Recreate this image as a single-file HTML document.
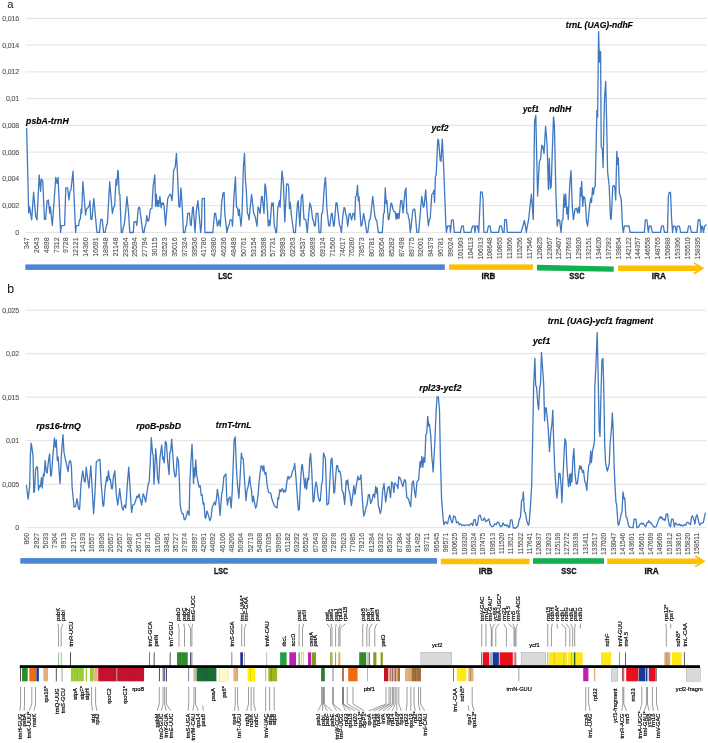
<!DOCTYPE html>
<html><head><meta charset="utf-8"><title>Figure</title>
<style>html,body{margin:0;padding:0;background:#fff}svg{display:block}text{font-family:"Liberation Sans",sans-serif}.ax{font-size:7px;fill:#555;stroke:#555;stroke-width:0.12px}.s6{font-size:6.6px}.an{font-size:8.6px;font-weight:bold;font-style:italic;fill:#000;stroke:#000;stroke-width:0.15px}.rg{font-size:8.5px;font-weight:bold;fill:#111;stroke:#111;stroke-width:0.3px;text-anchor:middle}.pl{font-size:11.2px;fill:#111}.ay{font-size:7.1px;letter-spacing:-0.22px;fill:#555;stroke:#555;stroke-width:0.1px}.g{font-size:5.7px;fill:#000;stroke:#000;stroke-width:0.18px}</style></head><body>
<svg width="708" height="743" viewBox="0 0 708 743">
<rect width="708" height="743" fill="#fff"/>
<text class="pl" x="7.3" y="8.2">a</text>
<line x1="25.8" y1="232.40" x2="706.5" y2="232.40" stroke="#d9d9d9" stroke-width="0.8"/>
<text class="ay" x="19" y="234.90" text-anchor="end">0</text>
<line x1="25.8" y1="205.65" x2="706.5" y2="205.65" stroke="#d9d9d9" stroke-width="0.8"/>
<text class="ay" x="19" y="208.15" text-anchor="end">0,002</text>
<line x1="25.8" y1="178.90" x2="706.5" y2="178.90" stroke="#d9d9d9" stroke-width="0.8"/>
<text class="ay" x="19" y="181.40" text-anchor="end">0,004</text>
<line x1="25.8" y1="152.15" x2="706.5" y2="152.15" stroke="#d9d9d9" stroke-width="0.8"/>
<text class="ay" x="19" y="154.65" text-anchor="end">0,006</text>
<line x1="25.8" y1="125.40" x2="706.5" y2="125.40" stroke="#d9d9d9" stroke-width="0.8"/>
<text class="ay" x="19" y="127.90" text-anchor="end">0,008</text>
<line x1="25.8" y1="98.65" x2="706.5" y2="98.65" stroke="#d9d9d9" stroke-width="0.8"/>
<text class="ay" x="19" y="101.15" text-anchor="end">0,01</text>
<line x1="25.8" y1="71.90" x2="706.5" y2="71.90" stroke="#d9d9d9" stroke-width="0.8"/>
<text class="ay" x="19" y="74.40" text-anchor="end">0,012</text>
<line x1="25.8" y1="45.15" x2="706.5" y2="45.15" stroke="#d9d9d9" stroke-width="0.8"/>
<text class="ay" x="19" y="47.65" text-anchor="end">0,014</text>
<line x1="25.8" y1="18.40" x2="706.5" y2="18.40" stroke="#d9d9d9" stroke-width="0.8"/>
<text class="ay" x="19" y="20.90" text-anchor="end">0,016</text>
<text class="ax" transform="translate(28.95,237.4) rotate(-90)" text-anchor="end">347</text>
<text class="ax" transform="translate(38.81,237.4) rotate(-90)" text-anchor="end">2643</text>
<text class="ax" transform="translate(48.67,237.4) rotate(-90)" text-anchor="end">4898</text>
<text class="ax" transform="translate(58.54,237.4) rotate(-90)" text-anchor="end">7312</text>
<text class="ax" transform="translate(68.40,237.4) rotate(-90)" text-anchor="end">9728</text>
<text class="ax" transform="translate(78.26,237.4) rotate(-90)" text-anchor="end">12121</text>
<text class="ax" transform="translate(88.12,237.4) rotate(-90)" text-anchor="end">14360</text>
<text class="ax" transform="translate(97.98,237.4) rotate(-90)" text-anchor="end">16691</text>
<text class="ax" transform="translate(107.84,237.4) rotate(-90)" text-anchor="end">18948</text>
<text class="ax" transform="translate(117.71,237.4) rotate(-90)" text-anchor="end">21148</text>
<text class="ax" transform="translate(127.57,237.4) rotate(-90)" text-anchor="end">23364</text>
<text class="ax" transform="translate(137.43,237.4) rotate(-90)" text-anchor="end">25594</text>
<text class="ax" transform="translate(147.29,237.4) rotate(-90)" text-anchor="end">27794</text>
<text class="ax" transform="translate(157.15,237.4) rotate(-90)" text-anchor="end">30115</text>
<text class="ax" transform="translate(167.01,237.4) rotate(-90)" text-anchor="end">32523</text>
<text class="ax" transform="translate(176.88,237.4) rotate(-90)" text-anchor="end">35016</text>
<text class="ax" transform="translate(186.74,237.4) rotate(-90)" text-anchor="end">37324</text>
<text class="ax" transform="translate(196.60,237.4) rotate(-90)" text-anchor="end">39536</text>
<text class="ax" transform="translate(206.46,237.4) rotate(-90)" text-anchor="end">41780</text>
<text class="ax" transform="translate(216.32,237.4) rotate(-90)" text-anchor="end">43980</text>
<text class="ax" transform="translate(226.19,237.4) rotate(-90)" text-anchor="end">46236</text>
<text class="ax" transform="translate(236.05,237.4) rotate(-90)" text-anchor="end">48489</text>
<text class="ax" transform="translate(245.91,237.4) rotate(-90)" text-anchor="end">50761</text>
<text class="ax" transform="translate(255.77,237.4) rotate(-90)" text-anchor="end">53154</text>
<text class="ax" transform="translate(265.63,237.4) rotate(-90)" text-anchor="end">55398</text>
<text class="ax" transform="translate(275.49,237.4) rotate(-90)" text-anchor="end">57731</text>
<text class="ax" transform="translate(285.36,237.4) rotate(-90)" text-anchor="end">59983</text>
<text class="ax" transform="translate(295.22,237.4) rotate(-90)" text-anchor="end">62263</text>
<text class="ax" transform="translate(305.08,237.4) rotate(-90)" text-anchor="end">64537</text>
<text class="ax" transform="translate(314.94,237.4) rotate(-90)" text-anchor="end">66899</text>
<text class="ax" transform="translate(324.80,237.4) rotate(-90)" text-anchor="end">69124</text>
<text class="ax" transform="translate(334.66,237.4) rotate(-90)" text-anchor="end">71560</text>
<text class="ax" transform="translate(344.53,237.4) rotate(-90)" text-anchor="end">74017</text>
<text class="ax" transform="translate(354.39,237.4) rotate(-90)" text-anchor="end">76280</text>
<text class="ax" transform="translate(364.25,237.4) rotate(-90)" text-anchor="end">78573</text>
<text class="ax" transform="translate(374.11,237.4) rotate(-90)" text-anchor="end">80781</text>
<text class="ax" transform="translate(383.97,237.4) rotate(-90)" text-anchor="end">83054</text>
<text class="ax" transform="translate(393.84,237.4) rotate(-90)" text-anchor="end">85282</text>
<text class="ax" transform="translate(403.70,237.4) rotate(-90)" text-anchor="end">87498</text>
<text class="ax" transform="translate(413.56,237.4) rotate(-90)" text-anchor="end">89775</text>
<text class="ax" transform="translate(423.42,237.4) rotate(-90)" text-anchor="end">92001</text>
<text class="ax" transform="translate(433.28,237.4) rotate(-90)" text-anchor="end">94379</text>
<text class="ax" transform="translate(443.14,237.4) rotate(-90)" text-anchor="end">96781</text>
<text class="ax" transform="translate(453.01,237.4) rotate(-90)" text-anchor="end">99024</text>
<text class="ax s6" transform="translate(462.87,237.4) rotate(-90)" text-anchor="end">101903</text>
<text class="ax s6" transform="translate(472.73,237.4) rotate(-90)" text-anchor="end">104113</text>
<text class="ax s6" transform="translate(482.59,237.4) rotate(-90)" text-anchor="end">106313</text>
<text class="ax s6" transform="translate(492.45,237.4) rotate(-90)" text-anchor="end">108648</text>
<text class="ax s6" transform="translate(502.31,237.4) rotate(-90)" text-anchor="end">110855</text>
<text class="ax s6" transform="translate(512.18,237.4) rotate(-90)" text-anchor="end">113056</text>
<text class="ax s6" transform="translate(522.04,237.4) rotate(-90)" text-anchor="end">115256</text>
<text class="ax s6" transform="translate(531.90,237.4) rotate(-90)" text-anchor="end">117546</text>
<text class="ax s6" transform="translate(541.76,237.4) rotate(-90)" text-anchor="end">120825</text>
<text class="ax s6" transform="translate(551.62,237.4) rotate(-90)" text-anchor="end">123057</text>
<text class="ax s6" transform="translate(561.49,237.4) rotate(-90)" text-anchor="end">125407</text>
<text class="ax s6" transform="translate(571.35,237.4) rotate(-90)" text-anchor="end">127663</text>
<text class="ax s6" transform="translate(581.21,237.4) rotate(-90)" text-anchor="end">129920</text>
<text class="ax s6" transform="translate(591.07,237.4) rotate(-90)" text-anchor="end">132151</text>
<text class="ax s6" transform="translate(600.93,237.4) rotate(-90)" text-anchor="end">134620</text>
<text class="ax s6" transform="translate(610.79,237.4) rotate(-90)" text-anchor="end">137282</text>
<text class="ax s6" transform="translate(620.66,237.4) rotate(-90)" text-anchor="end">139854</text>
<text class="ax s6" transform="translate(630.52,237.4) rotate(-90)" text-anchor="end">142122</text>
<text class="ax s6" transform="translate(640.38,237.4) rotate(-90)" text-anchor="end">144357</text>
<text class="ax s6" transform="translate(650.24,237.4) rotate(-90)" text-anchor="end">146558</text>
<text class="ax s6" transform="translate(660.10,237.4) rotate(-90)" text-anchor="end">148765</text>
<text class="ax s6" transform="translate(669.96,237.4) rotate(-90)" text-anchor="end">150988</text>
<text class="ax s6" transform="translate(679.83,237.4) rotate(-90)" text-anchor="end">153306</text>
<text class="ax s6" transform="translate(689.69,237.4) rotate(-90)" text-anchor="end">155510</text>
<text class="ax s6" transform="translate(699.55,237.4) rotate(-90)" text-anchor="end">158395</text>
<polyline fill="none" stroke="#4078c0" stroke-width="1.3" stroke-linejoin="round" points="26.6,128.0 27.9,179.1 28.7,213.1 29.6,207.0 31.7,219.8 33.6,192.2 35.7,216.6 37.0,219.8 39.2,175.0 40.6,191.3 41.3,179.1 42.7,180.8 44.5,219.3 45.7,219.3 47.1,200.9 48.3,200.0 49.7,213.1 50.4,207.0 52.3,225.4 55.8,177.3 57.1,183.4 58.1,177.3 60.6,232.4 61.3,225.7 64.6,225.4 65.8,187.8 67.6,187.8 69.0,200.0 69.8,192.2 71.0,189.5 73.0,171.2 75.6,232.4 76.3,225.7 78.6,225.4 79.4,220.1 80.3,219.3 81.2,208.8 81.7,213.1 82.9,181.7 85.6,214.9 86.4,209.7 89.1,206.2 89.9,200.9 90.8,219.3 92.0,219.3 93.8,198.3 96.9,232.4 99.5,232.4 100.8,219.3 102.2,219.3 103.6,232.4 105.1,232.4 106.5,225.4 107.4,223.6 109.7,181.7 112.4,213.4 113.5,207.8 114.7,205.7 115.6,186.6 116.1,179.5 116.8,185.2 117.8,170.4 118.2,171.1 119.2,193.7 119.9,194.4 121.3,232.5 122.4,232.5 123.4,226.9 124.1,225.5 125.5,213.4 126.9,196.5 128.4,210.6 129.8,232.5 133.3,232.5 134.0,221.9 136.1,221.6 136.8,225.5 138.2,209.2 139.0,207.1 139.7,207.8 141.8,224.7 142.9,232.5 143.9,232.5 145.3,225.5 146.0,224.0 146.7,215.6 147.9,221.2 148.8,220.5 150.3,209.2 151.9,208.5 153.1,186.6 154.8,175.0 155.6,206.4 156.3,194.4 157.3,206.4 158.0,200.7 158.7,206.4 159.9,196.5 161.1,207.8 162.0,202.9 162.5,204.3 163.4,202.9 164.1,206.4 165.5,225.5 166.5,213.4 167.6,199.3 168.6,196.5 170.0,194.4 170.7,194.4 171.9,200.7 172.4,196.5 173.6,171.1 174.3,169.0 175.3,166.8 176.4,153.4 177.5,173.9 178.9,206.4 179.9,207.1 180.9,188.0 182.0,202.1 183.4,232.5 184.9,232.5 186.0,226.2 186.7,225.5 187.7,213.4 189.4,213.2 190.5,224.7 191.2,225.5 192.6,207.5 193.3,207.1 195.0,232.5 196.4,210.6 197.9,200.7 199.0,213.4 200.7,232.5 201.5,224.7 202.2,198.6 204.4,198.3 204.9,232.5 212.8,232.5 214.6,213.4 215.6,213.4 217.4,226.2 218.1,224.7 219.1,219.8 220.3,226.2 221.7,202.1 223.1,193.0 224.1,192.3 224.8,213.4 226.9,232.5 228.3,226.2 229.0,225.5 230.1,219.8 231.8,219.8 232.5,226.2 234.0,196.5 235.4,177.0 236.4,206.4 237.8,209.2 238.5,215.6 239.2,209.2 241.0,226.2 242.0,213.4 243.4,166.8 244.5,153.4 245.5,181.0 246.2,188.0 247.4,213.4 248.1,214.2 249.1,219.8 250.2,207.8 251.6,194.4 253.7,213.4 255.1,216.3 257.0,226.2 258.0,207.1 258.7,207.8 260.1,213.4 261.5,196.5 262.2,196.5 264.0,213.4 265.0,183.8 265.7,186.6 266.9,200.7 268.3,226.2 269.3,220.5 270.0,225.5 271.7,202.9 272.5,205.7 273.2,202.9 274.2,224.7 275.9,232.5 276.6,232.5 277.7,207.8 278.4,206.4 279.4,200.7 280.1,207.1 282.0,170.8 283.4,183.1 284.8,221.9 286.6,183.8 288.1,184.1 288.6,186.6 289.5,208.5 290.2,202.1 291.2,213.4 293.7,232.5 295.4,232.5 297.5,202.9 298.2,200.7 299.9,226.2 301.3,196.5 302.5,194.4 304.0,219.1 305.9,219.8 307.3,232.5 308.8,213.4 309.9,202.9 311.3,207.8 312.7,219.8 313.4,220.5 314.5,226.2 315.3,225.5 316.2,213.4 317.9,213.4 319.1,232.5 320.8,232.5 321.6,213.4 322.6,212.7 324.3,186.6 325.4,177.4 326.1,188.0 326.8,207.8 328.7,225.5 329.7,226.2 331.4,213.4 332.2,213.4 333.5,226.2 334.2,225.5 336.0,202.9 337.0,202.9 339.5,225.5 340.3,226.2 341.4,232.5 342.8,216.3 344.1,207.5 344.9,208.5 345.9,214.9 346.6,216.3 347.7,226.2 349.2,214.2 350.1,213.4 351.6,219.8 353.0,213.4 354.0,213.4 354.8,219.8 355.5,196.5 356.5,195.8 357.5,185.5 358.3,200.7 359.0,196.5 361.0,226.2 362.1,224.7 363.6,213.4 364.7,219.1 366.7,232.5 367.8,232.5 369.2,220.5 370.3,219.1 372.7,196.5 374.9,216.3 376.0,219.8 376.7,220.5 378.4,232.5 382.3,232.5 383.6,213.4 384.3,212.7 385.3,188.0 386.2,203.6 386.9,200.7 388.3,219.8 389.0,219.1 391.1,202.9 391.8,203.6 392.9,209.2 393.9,211.3 395.3,212.0 396.0,219.1 396.8,213.4 397.4,218.5 398.2,213.7 399.0,218.5 400.7,200.8 401.8,200.3 403.1,212.9 405.0,191.1 406.0,187.9 406.8,212.9 407.9,213.7 408.7,218.5 409.2,219.4 410.3,232.3 411.2,225.8 412.8,210.5 414.1,208.9 414.9,209.7 416.8,232.3 418.7,232.3 421.7,196.3 422.5,200.8 423.3,207.2 424.1,206.4 425.7,189.8 427.3,213.7 428.4,225.8 429.2,220.2 430.2,218.5 431.8,194.3 433.0,193.5 433.8,190.3 434.6,202.4 435.4,176.5 436.2,174.9 437.8,139.4 438.6,140.2 440.2,160.4 441.0,161.2 442.3,139.1 443.5,163.6 445.9,225.8 446.4,232.3 447.5,226.1 449.9,225.8 450.4,232.3 451.5,220.2 453.2,219.8 454.3,232.3 460.4,232.3 461.6,226.1 463.2,225.8 464.1,232.3 470.9,232.3 472.5,226.1 474.2,225.8 475.0,232.3 475.8,226.1 477.4,225.8 478.7,232.3 480.6,191.9 482.2,192.2 483.0,199.2 483.9,232.3 487.1,232.3 488.4,226.1 490.0,225.8 491.1,232.3 498.5,232.4 499.8,225.8 501.3,225.8 502.8,232.4 504.1,232.4 504.7,219.6 506.4,219.6 507.3,232.4 521.1,232.4 523.0,225.8 524.3,220.5 525.4,225.8 526.3,232.4 527.3,226.2 528.6,219.6 530.1,205.5 531.4,194.2 533.3,219.6 534.6,120.7 535.8,115.4 537.6,196.0 539.3,162.1 540.5,159.3 541.8,145.2 542.7,146.1 544.0,153.7 545.6,126.4 547.1,145.2 548.4,189.5 549.3,158.4 550.3,188.5 551.2,186.6 552.5,145.2 553.5,116.9 554.4,124.5 555.9,194.2 557.2,226.2 558.4,219.6 559.7,220.5 561.0,232.4 562.1,220.5 562.9,219.6 564.0,194.2 564.8,207.3 565.7,194.2 566.8,213.9 567.6,207.3 568.2,219.6 569.7,185.7 571.0,170.6 572.3,207.3 573.4,219.6 575.1,208.9 576.6,208.3 577.6,213.0 578.5,207.3 579.5,213.0 580.4,187.6 581.0,196.0 581.7,181.4 582.7,206.4 583.6,196.4 584.7,197.9 585.7,207.3 586.4,220.5 587.6,226.2 589.8,204.0 590.7,198.4 591.5,202.4 592.6,187.9 593.4,194.3 594.2,187.9 595.2,186.2 596.0,152.3 596.9,110.4 597.6,117.0 598.6,31.6 599.4,62.2 599.8,51.1 600.6,51.9 601.2,146.7 602.3,149.0 603.1,167.7 604.0,120.0 604.6,97.0 605.7,81.5 606.6,120.0 607.6,171.7 609.2,186.2 610.5,218.5 611.2,219.4 612.8,186.2 614.1,185.4 614.9,187.9 615.7,200.0 616.8,151.5 617.6,164.4 618.3,158.0 619.4,193.5 620.5,195.9 621.3,200.8 622.5,225.8 623.4,232.3 624.3,226.1 628.9,225.8 630.2,232.3 644.3,232.3 645.3,219.8 646.9,219.8 648.3,232.3 649.3,226.1 650.9,225.8 652.4,232.3 660.4,232.3 661.6,225.8 663.3,225.8 664.5,232.4 667.5,232.4 668.3,196.9 669.2,192.3 670.5,192.3 671.7,220.7 672.6,232.4 673.3,226.2 675.1,226.2 676.4,232.4 677.2,226.2 679.4,226.2 680.6,232.4 687.4,232.4 688.5,226.2 690.2,226.2 691.4,232.4 697.0,232.4 698.2,219.8 699.9,219.7 701.0,232.4 701.6,226.2 702.4,226.2 703.5,232.4 704.6,226.2 706.5,224.5"/>
<text class="an" x="26.1" y="124.2" textLength="42.6" lengthAdjust="spacingAndGlyphs">psbA-trnH</text>
<text class="an" x="431.5" y="130.6" textLength="17" lengthAdjust="spacingAndGlyphs">ycf2</text>
<text class="an" x="523" y="111.7" textLength="16" lengthAdjust="spacingAndGlyphs">ycf1</text>
<text class="an" x="549.3" y="111.7" textLength="22" lengthAdjust="spacingAndGlyphs">ndhH</text>
<text class="an" x="565.8" y="27.9" textLength="67" lengthAdjust="spacingAndGlyphs">trnL (UAG)-ndhF</text>
<rect x="25.4" y="264.4" width="419.40000000000003" height="5.5" fill="#4a86d2"/>
<rect x="449" y="264.4" width="84" height="5.5" fill="#ffc000"/>
<polygon points="537,264.8 613.7,266.4 613.7,271.8 537,270.4" fill="#12b050"/>
<polygon points="618,265.6 696.8,265.6 693.2,263.6 694.5,262.2 704.4,268.35 694.5,274.5 693.2,273.1 696.8,271.1 618,271.1" fill="#ffc000"/>
<text class="rg" x="225.3" y="279.4" textLength="14.2" lengthAdjust="spacingAndGlyphs">LSC</text>
<text class="rg" x="488.4" y="279.4" textLength="13.8" lengthAdjust="spacingAndGlyphs">IRB</text>
<text class="rg" x="577" y="279.4" textLength="15.3" lengthAdjust="spacingAndGlyphs">SSC</text>
<text class="rg" x="658.8" y="279.4" textLength="14.2" lengthAdjust="spacingAndGlyphs">IRA</text>
<text class="pl" x="7.3" y="293" style="font-size:12.2px">b</text>
<line x1="25.8" y1="527.70" x2="706.5" y2="527.70" stroke="#d9d9d9" stroke-width="0.8"/>
<text class="ay" x="19" y="530.20" text-anchor="end">0</text>
<line x1="25.8" y1="484.20" x2="706.5" y2="484.20" stroke="#d9d9d9" stroke-width="0.8"/>
<text class="ay" x="19" y="486.70" text-anchor="end">0,005</text>
<line x1="25.8" y1="440.70" x2="706.5" y2="440.70" stroke="#d9d9d9" stroke-width="0.8"/>
<text class="ay" x="19" y="443.20" text-anchor="end">0,01</text>
<line x1="25.8" y1="397.20" x2="706.5" y2="397.20" stroke="#d9d9d9" stroke-width="0.8"/>
<text class="ay" x="19" y="399.70" text-anchor="end">0,015</text>
<line x1="25.8" y1="353.70" x2="706.5" y2="353.70" stroke="#d9d9d9" stroke-width="0.8"/>
<text class="ay" x="19" y="356.20" text-anchor="end">0,02</text>
<line x1="25.8" y1="310.20" x2="706.5" y2="310.20" stroke="#d9d9d9" stroke-width="0.8"/>
<text class="ay" x="19" y="312.70" text-anchor="end">0,025</text>
<text class="ax" transform="translate(29.20,532.9) rotate(-90)" text-anchor="end">860</text>
<text class="ax" transform="translate(38.51,532.9) rotate(-90)" text-anchor="end">2927</text>
<text class="ax" transform="translate(47.82,532.9) rotate(-90)" text-anchor="end">5033</text>
<text class="ax" transform="translate(57.13,532.9) rotate(-90)" text-anchor="end">7304</text>
<text class="ax" transform="translate(66.44,532.9) rotate(-90)" text-anchor="end">9913</text>
<text class="ax" transform="translate(75.75,532.9) rotate(-90)" text-anchor="end">12176</text>
<text class="ax" transform="translate(85.05,532.9) rotate(-90)" text-anchor="end">14193</text>
<text class="ax" transform="translate(94.36,532.9) rotate(-90)" text-anchor="end">16557</text>
<text class="ax" transform="translate(103.67,532.9) rotate(-90)" text-anchor="end">18636</text>
<text class="ax" transform="translate(112.98,532.9) rotate(-90)" text-anchor="end">20657</text>
<text class="ax" transform="translate(122.29,532.9) rotate(-90)" text-anchor="end">22657</text>
<text class="ax" transform="translate(131.60,532.9) rotate(-90)" text-anchor="end">24687</text>
<text class="ax" transform="translate(140.91,532.9) rotate(-90)" text-anchor="end">26716</text>
<text class="ax" transform="translate(150.22,532.9) rotate(-90)" text-anchor="end">28716</text>
<text class="ax" transform="translate(159.53,532.9) rotate(-90)" text-anchor="end">31050</text>
<text class="ax" transform="translate(168.84,532.9) rotate(-90)" text-anchor="end">33481</text>
<text class="ax" transform="translate(178.14,532.9) rotate(-90)" text-anchor="end">35727</text>
<text class="ax" transform="translate(187.45,532.9) rotate(-90)" text-anchor="end">37974</text>
<text class="ax" transform="translate(196.76,532.9) rotate(-90)" text-anchor="end">39997</text>
<text class="ax" transform="translate(206.07,532.9) rotate(-90)" text-anchor="end">42091</text>
<text class="ax" transform="translate(215.38,532.9) rotate(-90)" text-anchor="end">44092</text>
<text class="ax" transform="translate(224.69,532.9) rotate(-90)" text-anchor="end">46106</text>
<text class="ax" transform="translate(234.00,532.9) rotate(-90)" text-anchor="end">48206</text>
<text class="ax" transform="translate(243.31,532.9) rotate(-90)" text-anchor="end">50304</text>
<text class="ax" transform="translate(252.62,532.9) rotate(-90)" text-anchor="end">52719</text>
<text class="ax" transform="translate(261.93,532.9) rotate(-90)" text-anchor="end">54808</text>
<text class="ax" transform="translate(271.23,532.9) rotate(-90)" text-anchor="end">57035</text>
<text class="ax" transform="translate(280.54,532.9) rotate(-90)" text-anchor="end">59095</text>
<text class="ax" transform="translate(289.85,532.9) rotate(-90)" text-anchor="end">61182</text>
<text class="ax" transform="translate(299.16,532.9) rotate(-90)" text-anchor="end">63292</text>
<text class="ax" transform="translate(308.47,532.9) rotate(-90)" text-anchor="end">65524</text>
<text class="ax" transform="translate(317.78,532.9) rotate(-90)" text-anchor="end">67643</text>
<text class="ax" transform="translate(327.09,532.9) rotate(-90)" text-anchor="end">69820</text>
<text class="ax" transform="translate(336.40,532.9) rotate(-90)" text-anchor="end">72878</text>
<text class="ax" transform="translate(345.71,532.9) rotate(-90)" text-anchor="end">75023</text>
<text class="ax" transform="translate(355.02,532.9) rotate(-90)" text-anchor="end">77085</text>
<text class="ax" transform="translate(364.32,532.9) rotate(-90)" text-anchor="end">79216</text>
<text class="ax" transform="translate(373.63,532.9) rotate(-90)" text-anchor="end">81284</text>
<text class="ax" transform="translate(382.94,532.9) rotate(-90)" text-anchor="end">83332</text>
<text class="ax" transform="translate(392.25,532.9) rotate(-90)" text-anchor="end">85367</text>
<text class="ax" transform="translate(401.56,532.9) rotate(-90)" text-anchor="end">87384</text>
<text class="ax" transform="translate(410.87,532.9) rotate(-90)" text-anchor="end">89444</text>
<text class="ax" transform="translate(420.18,532.9) rotate(-90)" text-anchor="end">91492</text>
<text class="ax" transform="translate(429.49,532.9) rotate(-90)" text-anchor="end">93711</text>
<text class="ax" transform="translate(438.80,532.9) rotate(-90)" text-anchor="end">96545</text>
<text class="ax" transform="translate(448.11,532.9) rotate(-90)" text-anchor="end">98571</text>
<text class="ax s6" transform="translate(457.42,532.9) rotate(-90)" text-anchor="end">100625</text>
<text class="ax s6" transform="translate(466.72,532.9) rotate(-90)" text-anchor="end">103320</text>
<text class="ax s6" transform="translate(476.03,532.9) rotate(-90)" text-anchor="end">105324</text>
<text class="ax s6" transform="translate(485.34,532.9) rotate(-90)" text-anchor="end">107475</text>
<text class="ax s6" transform="translate(494.65,532.9) rotate(-90)" text-anchor="end">109513</text>
<text class="ax s6" transform="translate(503.96,532.9) rotate(-90)" text-anchor="end">111520</text>
<text class="ax s6" transform="translate(513.27,532.9) rotate(-90)" text-anchor="end">113521</text>
<text class="ax s6" transform="translate(522.58,532.9) rotate(-90)" text-anchor="end">115522</text>
<text class="ax s6" transform="translate(531.89,532.9) rotate(-90)" text-anchor="end">117641</text>
<text class="ax s6" transform="translate(541.20,532.9) rotate(-90)" text-anchor="end">120837</text>
<text class="ax s6" transform="translate(550.51,532.9) rotate(-90)" text-anchor="end">123023</text>
<text class="ax s6" transform="translate(559.81,532.9) rotate(-90)" text-anchor="end">125199</text>
<text class="ax s6" transform="translate(569.12,532.9) rotate(-90)" text-anchor="end">127272</text>
<text class="ax s6" transform="translate(578.43,532.9) rotate(-90)" text-anchor="end">129339</text>
<text class="ax s6" transform="translate(587.74,532.9) rotate(-90)" text-anchor="end">131411</text>
<text class="ax s6" transform="translate(597.05,532.9) rotate(-90)" text-anchor="end">133517</text>
<text class="ax s6" transform="translate(606.36,532.9) rotate(-90)" text-anchor="end">137020</text>
<text class="ax s6" transform="translate(615.67,532.9) rotate(-90)" text-anchor="end">139047</text>
<text class="ax s6" transform="translate(624.98,532.9) rotate(-90)" text-anchor="end">141546</text>
<text class="ax s6" transform="translate(634.29,532.9) rotate(-90)" text-anchor="end">143601</text>
<text class="ax s6" transform="translate(643.60,532.9) rotate(-90)" text-anchor="end">145601</text>
<text class="ax s6" transform="translate(652.90,532.9) rotate(-90)" text-anchor="end">147609</text>
<text class="ax s6" transform="translate(662.21,532.9) rotate(-90)" text-anchor="end">149609</text>
<text class="ax s6" transform="translate(671.52,532.9) rotate(-90)" text-anchor="end">151812</text>
<text class="ax s6" transform="translate(680.83,532.9) rotate(-90)" text-anchor="end">153816</text>
<text class="ax s6" transform="translate(690.14,532.9) rotate(-90)" text-anchor="end">155820</text>
<text class="ax s6" transform="translate(699.45,532.9) rotate(-90)" text-anchor="end">158511</text>
<polyline fill="none" stroke="#4078c0" stroke-width="1.3" stroke-linejoin="round" points="26.4,485.0 28.1,499.1 29.6,487.2 30.4,454.6 31.1,443.1 31.9,447.2 33.0,456.1 33.8,492.4 34.5,491.7 35.6,469.4 36.6,466.8 37.5,467.2 38.5,490.2 39.6,485.7 40.4,486.5 41.5,477.6 42.2,488.0 43.4,473.9 44.1,476.1 45.2,460.6 46.4,472.4 47.1,473.1 48.6,459.8 49.6,453.9 50.7,476.1 51.4,475.4 52.6,459.8 54.4,438.0 55.3,447.2 56.3,439.8 57.3,460.6 58.1,456.9 60.0,483.5 61.5,453.1 63.0,434.6 64.0,452.4 65.5,459.8 66.7,465.0 68.1,471.7 69.2,462.0 70.4,460.6 71.4,465.7 72.1,487.2 74.1,507.2 75.6,506.5 77.0,498.6 78.5,508.7 79.6,509.4 81.0,484.3 82.7,470.9 84.4,481.3 85.2,482.0 86.2,467.2 87.4,476.9 88.9,488.0 90.8,465.7 91.9,484.3 93.6,513.6 94.8,496.1 96.3,462.0 97.3,461.3 98.5,459.8 100.0,459.5 101.0,481.3 103.0,506.2 103.7,505.7 105.2,487.2 106.7,476.9 107.4,481.3 108.4,470.9 109.6,479.8 110.4,479.1 111.6,488.7 112.3,488.7 113.3,477.6 114.8,470.9 116.3,494.6 117.7,505.0 118.7,497.6 119.7,488.7 120.9,499.1 122.1,508.0 123.1,510.2 124.2,505.7 125.1,505.0 125.8,508.0 127.6,480.6 128.8,467.2 129.8,484.3 131.6,512.4 132.8,505.0 134.3,504.3 135.7,500.6 136.9,496.1 138.0,497.6 139.0,493.9 140.2,499.1 141.7,505.0 143.1,493.9 144.2,496.1 145.7,502.0 146.9,493.1 148.3,483.5 149.1,482.8 150.3,462.0 151.3,437.6 152.5,453.1 153.2,455.4 154.0,484.3 154.7,469.4 155.7,448.7 156.8,462.0 157.5,476.9 158.7,483.5 159.9,458.3 161.7,445.0 162.7,459.1 163.1,456.9 164.2,462.8 165.4,441.3 166.4,442.8 167.6,460.6 169.1,474.6 169.8,452.4 170.6,451.7 171.7,439.1 172.8,454.6 173.8,469.4 175.0,476.9 176.0,476.1 177.2,456.9 178.4,460.6 179.4,481.3 180.2,505.0 181.2,510.9 182.4,513.9 183.1,513.6 184.3,519.8 185.4,519.1 186.9,513.9 187.6,510.9 189.1,515.4 189.8,484.3 190.9,462.0 192.0,444.3 192.8,462.0 193.5,483.5 194.3,468.0 195.0,476.9 195.7,459.8 196.8,475.4 198.0,482.0 199.1,487.2 200.2,485.7 201.2,495.4 202.1,494.6 203.1,504.3 203.9,502.8 205.1,517.6 205.7,518.3 206.9,510.9 208.0,513.9 209.8,520.6 211.0,518.3 212.2,507.2 213.3,505.0 214.4,502.0 215.5,505.0 216.4,499.1 217.4,489.4 218.6,497.6 220.1,515.4 221.6,494.6 222.6,490.2 223.8,476.9 224.8,475.4 225.9,473.9 226.6,494.6 227.5,505.0 228.5,499.1 230.0,496.9 231.2,508.0 232.2,491.7 233.3,462.0 234.1,439.8 235.2,436.9 236.4,468.0 237.4,484.3 238.9,498.3 240.1,476.9 241.4,453.1 242.3,458.3 243.3,459.1 244.8,484.3 246.0,500.6 247.0,490.2 248.2,486.5 249.7,476.1 250.4,484.3 251.5,490.2 252.5,502.0 253.4,496.1 254.4,502.0 255.6,508.0 256.7,505.7 258.1,494.6 259.3,479.8 261.1,465.7 262.1,466.5 263.0,470.9 263.8,465.7 264.5,472.4 265.3,474.6 266.0,472.4 267.0,484.3 268.5,492.4 270.7,493.1 271.9,499.1 273.0,502.0 274.4,505.7 275.9,507.2 277.1,508.0 277.9,497.6 278.6,499.1 279.9,489.4 280.8,491.7 281.9,489.4 282.6,488.7 283.6,492.4 284.5,490.2 285.6,491.7 287.0,480.6 288.1,476.1 289.0,479.1 290.0,476.9 291.2,476.9 292.2,471.7 293.7,468.7 294.7,463.5 295.9,476.9 297.4,498.3 298.4,510.2 299.3,509.4 300.4,484.3 301.6,466.5 302.3,464.3 303.3,473.1 304.8,488.0 305.6,478.3 306.6,489.4 308.0,477.6 308.7,479.8 309.7,459.1 310.6,453.4 311.7,469.4 313.1,502.0 313.9,500.6 315.1,487.2 316.1,482.0 317.1,487.2 318.3,497.6 319.5,501.3 320.3,500.6 321.6,484.3 322.5,480.6 323.5,452.9 324.6,456.1 325.4,458.3 326.9,505.0 328.0,504.3 328.7,502.8 329.9,479.8 330.9,460.6 332.0,457.9 332.9,473.9 333.9,493.1 334.6,492.4 335.7,476.1 336.6,465.7 337.6,465.7 338.8,471.7 339.8,470.9 341.0,476.1 342.0,490.2 343.2,492.4 344.7,504.3 346.2,480.6 346.9,484.3 347.7,479.8 348.7,489.4 349.9,493.9 351.4,505.7 352.4,497.6 353.9,485.7 354.9,494.6 356.1,487.2 357.9,476.1 358.8,479.8 359.8,479.1 360.9,474.9 361.7,488.7 362.8,505.7 363.8,516.1 365.0,512.4 366.2,506.5 366.9,505.7 368.4,494.6 369.4,494.6 370.6,503.5 372.0,500.6 373.1,494.6 373.9,493.9 374.6,497.6 375.7,486.5 376.6,493.1 377.3,488.0 378.3,505.0 379.1,508.0 380.3,513.6 381.3,509.4 382.8,490.2 384.0,483.5 385.0,494.6 385.7,502.0 386.9,493.1 388.0,487.2 389.1,486.5 390.5,497.6 391.7,482.0 392.7,483.5 393.9,492.4 394.9,482.8 395.8,484.3 396.9,485.0 397.9,488.7 398.8,476.9 399.8,477.6 401.0,480.6 402.9,486.7 404.3,479.8 405.5,480.2 406.8,497.4 408.2,498.4 410.7,506.8 412.1,483.8 413.3,480.8 414.6,491.6 415.6,497.4 417.0,481.8 418.6,479.8 420.1,461.3 420.9,467.1 421.9,456.4 422.9,467.1 423.8,457.4 424.8,462.3 425.8,434.9 426.8,433.0 427.7,416.4 428.7,426.1 429.5,424.2 430.7,434.9 431.8,456.4 433.2,472.0 434.8,442.7 436.1,411.5 437.1,396.8 438.3,396.8 439.5,409.5 440.4,458.4 441.6,499.4 443.0,517.0 443.9,524.8 445.3,521.8 446.5,522.8 447.5,523.8 448.8,517.9 449.8,515.0 451.2,520.9 452.3,522.8 453.7,516.0 455.1,516.6 456.6,522.8 458.0,521.8 459.2,524.8 460.5,523.8 462.1,525.7 463.5,524.8 464.8,525.7 466.4,524.8 468.0,524.8 469.3,525.7 470.3,523.8 471.7,523.4 472.7,525.7 473.8,519.9 475.2,519.5 476.2,525.7 477.5,524.8 478.7,516.0 480.1,515.0 481.6,519.9 483.0,520.5 484.4,517.9 485.9,521.8 487.3,520.5 488.9,518.9 490.2,524.8 491.8,526.7 493.4,526.3 494.7,523.8 496.1,524.8 497.3,522.2 498.9,522.5 499.6,525.3 500.9,526.8 502.0,526.0 503.0,522.9 504.3,525.3 505.5,525.0 506.6,526.0 507.7,525.0 508.6,527.6 509.7,526.8 510.5,519.8 512.0,519.8 513.3,528.0 515.9,528.0 517.9,526.0 519.0,520.6 520.5,516.7 521.6,500.5 522.6,499.7 523.3,492.0 524.4,511.3 525.5,512.9 526.7,520.6 528.3,525.3 529.1,523.7 530.3,508.2 531.7,485.0 532.6,440.0 533.7,384.6 534.9,358.4 535.7,385.4 536.6,387.0 537.8,404.0 538.6,409.7 539.7,387.9 540.5,383.8 541.5,352.3 542.6,368.5 543.7,384.6 544.6,421.0 545.4,408.0 546.2,408.0 547.0,415.3 548.3,429.9 549.5,451.7 550.7,434.0 552.0,423.0 552.8,410.1 553.5,435.5 554.6,464.9 555.7,485.0 556.9,498.2 558.2,485.0 558.9,473.4 560.0,473.4 561.1,485.0 561.9,502.8 563.1,474.2 564.2,451.0 565.0,438.6 565.9,441.7 567.0,468.0 568.5,486.6 569.8,474.2 570.4,485.8 571.2,473.4 571.9,481.9 572.9,458.7 573.9,448.6 575.0,474.2 576.3,484.2 577.4,483.5 578.6,474.2 579.7,465.7 580.4,468.8 581.2,466.4 582.5,472.6 583.5,470.3 584.8,481.9 585.6,482.7 586.8,490.4 587.9,474.2 588.7,465.7 589.7,464.1 590.7,451.0 591.4,462.6 592.5,451.0 593.8,445.5 594.5,440.1 594.8,387.9 595.9,365.2 597.2,332.6 598.0,368.5 599.2,429.9 600.0,436.3 600.8,400.8 601.9,360.4 602.9,358.4 603.7,384.6 604.7,443.2 605.5,461.8 606.6,468.0 607.3,471.1 608.6,466.4 609.3,463.3 610.1,443.2 611.7,426.2 612.3,413.0 613.2,430.8 614.0,461.8 614.8,481.9 616.0,502.8 616.6,503.6 617.9,523.7 618.6,525.3 620.2,519.1 621.4,512.9 622.0,512.1 623.0,492.0 624.1,498.9 624.8,498.2 625.9,516.7 626.8,517.5 628.7,526.0 629.9,527.3 633.0,527.6 634.1,519.1 636.0,519.1 636.9,527.6 638.8,526.8 639.8,524.5 641.5,522.9 642.3,524.0 643.4,523.4 644.6,525.3 645.7,526.8 647.0,522.9 648.0,522.2 648.8,520.6 649.6,522.9 650.7,522.2 651.6,524.0 652.7,525.3 654.2,527.3 656.3,526.5 657.6,522.9 658.9,519.1 660.4,516.7 661.2,518.3 662.0,517.2 663.1,519.8 664.3,519.1 665.1,520.6 666.2,514.4 667.4,513.7 668.5,520.6 669.4,525.3 670.5,526.8 671.6,519.1 673.1,519.1 674.4,526.8 675.6,522.9 677.0,524.5 678.2,525.3 679.5,524.0 680.6,525.7 681.6,525.0 682.9,526.0 684.4,524.5 685.7,525.3 687.1,522.2 688.3,522.6 689.1,523.7 690.5,524.6 691.5,517.1 692.4,515.8 693.2,517.8 694.2,520.5 694.9,524.2 695.9,517.1 696.9,514.7 698.0,518.5 699.0,523.2 699.9,525.1 700.7,523.6 702.0,522.9 703.4,522.5 704.4,517.1 705.4,512.7"/>
<text class="an" x="36.2" y="428.7" textLength="44.7" lengthAdjust="spacingAndGlyphs">rps16-trnQ</text>
<text class="an" x="136.2" y="428.7" textLength="44.7" lengthAdjust="spacingAndGlyphs">rpoB-psbD</text>
<text class="an" x="215.8" y="428.2" textLength="35.6" lengthAdjust="spacingAndGlyphs">trnT-trnL</text>
<text class="an" x="419.2" y="391.3" textLength="42.2" lengthAdjust="spacingAndGlyphs">rpl23-ycf2</text>
<text class="an" x="533" y="344.3" textLength="17.3" lengthAdjust="spacingAndGlyphs">ycf1</text>
<text class="an" x="547.7" y="324.1" textLength="105.4" lengthAdjust="spacingAndGlyphs">trnL (UAG)-ycf1 fragment</text>
<rect x="20.3" y="558.1" width="416.7" height="5.6" fill="#4a86d2"/>
<rect x="440.8" y="558.6" width="88.69999999999999" height="5.6" fill="#ffc000"/>
<rect x="533" y="558.2" width="71" height="5.6" fill="#12b050"/>
<polygon points="607.2,558.5 698,558.5 694.5,556.6 695.8,555.2 705.7,561.25 695.8,567.3 694.5,565.9 698,564 607.2,564" fill="#ffc000"/>
<text class="rg" x="221" y="573.7" textLength="14.2" lengthAdjust="spacingAndGlyphs">LSC</text>
<text class="rg" x="485.7" y="573.7" textLength="13.8" lengthAdjust="spacingAndGlyphs">IRB</text>
<text class="rg" x="569" y="573.7" textLength="15.3" lengthAdjust="spacingAndGlyphs">SSC</text>
<text class="rg" x="651.6" y="573.7" textLength="14.2" lengthAdjust="spacingAndGlyphs">IRA</text>
<g>
<rect x="20.200000000000003" y="667.5" width="0.80" height="13.80" fill="#222"/>
<rect x="22" y="667.5" width="5.70" height="13.80" fill="#2e8b2e"/>
<rect x="29.3" y="667.5" width="7.10" height="13.80" fill="#f06a10"/>
<rect x="36.4" y="667.5" width="2.50" height="13.80" fill="#1a3a9a"/>
<rect x="43.3" y="667.5" width="4.70" height="13.80" fill="#e3b07c"/>
<rect x="55.85" y="667.5" width="0.80" height="13.80" fill="#222"/>
<rect x="61.65" y="667.5" width="0.80" height="13.80" fill="#888"/>
<rect x="70.9" y="667.5" width="6.50" height="13.80" fill="#9acd32"/>
<rect x="77.4" y="667.5" width="0.80" height="13.80" fill="#6b8e23"/>
<rect x="78.2" y="667.5" width="5.60" height="13.80" fill="#9acd32"/>
<rect x="85.7" y="667.5" width="1.30" height="13.80" fill="#9acd32"/>
<rect x="90" y="667.5" width="3.80" height="13.80" fill="#9acd32"/>
<rect x="94.2" y="667.5" width="3.50" height="13.80" fill="#e3b07c"/>
<rect x="98.2" y="667.5" width="18.20" height="13.80" fill="#c4122e"/>
<rect x="116.4" y="667.5" width="0.80" height="13.80" fill="#a06060"/>
<rect x="117.2" y="667.5" width="12.30" height="13.80" fill="#c4122e"/>
<rect x="129.29999999999998" y="667.5" width="0.80" height="13.80" fill="#5a0a14"/>
<rect x="129.9" y="667.5" width="14.20" height="13.80" fill="#c4122e"/>
<rect x="158.95" y="667.5" width="0.80" height="13.80" fill="#222"/>
<rect x="162.75" y="667.5" width="0.80" height="13.80" fill="#222"/>
<rect x="164.35" y="667.5" width="0.80" height="13.80" fill="#20205a"/>
<rect x="166.04999999999998" y="667.5" width="0.80" height="13.80" fill="#20205a"/>
<rect x="188.29999999999998" y="667.5" width="0.80" height="13.80" fill="#5a6488"/>
<rect x="193.6" y="667.5" width="1.00" height="13.80" fill="#999"/>
<rect x="194.6" y="667.5" width="1.80" height="13.80" fill="#e3b07c"/>
<rect x="196.6" y="667.5" width="9.80" height="13.80" fill="#1a6b33"/>
<rect x="206.15" y="667.5" width="0.80" height="13.80" fill="#0a3a18"/>
<rect x="206.7" y="667.5" width="9.70" height="13.80" fill="#1a6b33"/>
<rect x="219.3" y="667.5" width="8.80" height="13.80" fill="#fdfcc4" stroke="#cfcf90" stroke-width="0.4"/>
<rect x="233.4" y="667.5" width="3.90" height="13.80" fill="#e3b07c"/>
<rect x="237.25" y="667.5" width="0.80" height="13.80" fill="#999"/>
<rect x="247.5" y="667.5" width="7.50" height="13.80" fill="#fff000"/>
<rect x="249.99999999999997" y="667.5" width="0.80" height="13.80" fill="#e0c800"/>
<rect x="265.35" y="667.5" width="0.80" height="13.80" fill="#999"/>
<rect x="268.3" y="667.5" width="8.80" height="13.80" fill="#9ab820"/>
<rect x="270.8" y="667.5" width="0.80" height="13.80" fill="#7a9010"/>
<rect x="321.1" y="667.5" width="3.70" height="13.80" fill="#2e7a2e"/>
<rect x="332.6" y="667.5" width="0.80" height="13.80" fill="#5a6488"/>
<rect x="342.1" y="667.5" width="1.80" height="13.80" fill="#a0703a"/>
<rect x="348.2" y="667.5" width="9.40" height="13.80" fill="#f06a10"/>
<rect x="367.20000000000005" y="667.5" width="0.80" height="13.80" fill="#b0a080"/>
<rect x="384" y="667.5" width="4.20" height="13.80" fill="#c4122e"/>
<rect x="388.2" y="667.5" width="2.00" height="13.80" fill="#e3b07c"/>
<rect x="390.2" y="667.5" width="1.10" height="13.80" fill="#a0703a"/>
<rect x="391.3" y="667.5" width="1.10" height="13.80" fill="#e3b07c"/>
<rect x="392.25" y="667.5" width="0.80" height="13.80" fill="#8020a0"/>
<rect x="392.9" y="667.5" width="1.60" height="13.80" fill="#e3b07c"/>
<rect x="394.5" y="667.5" width="1.50" height="13.80" fill="#a0703a"/>
<rect x="396" y="667.5" width="1.50" height="13.80" fill="#e3b07c"/>
<rect x="397.5" y="667.5" width="2.50" height="13.80" fill="#a0703a"/>
<rect x="405.1" y="667.5" width="4.60" height="13.80" fill="#e3b07c"/>
<rect x="409.65" y="667.5" width="0.80" height="13.80" fill="#a0703a"/>
<rect x="410.4" y="667.5" width="1.00" height="13.80" fill="#e3b07c"/>
<rect x="411.4" y="667.5" width="4.60" height="13.80" fill="#a0703a"/>
<rect x="415.8" y="667.5" width="0.80" height="13.80" fill="#704a20"/>
<rect x="416.4" y="667.5" width="4.60" height="13.80" fill="#a0703a"/>
<rect x="453.15000000000003" y="667.5" width="0.80" height="13.80" fill="#555"/>
<rect x="456.8" y="667.5" width="9.50" height="13.80" fill="#ffe81a"/>
<rect x="468.3" y="667.5" width="2.10" height="13.80" fill="#e3b07c"/>
<rect x="470.25" y="667.5" width="0.80" height="13.80" fill="#a0703a"/>
<rect x="470.9" y="667.5" width="2.60" height="13.80" fill="#e3b07c"/>
<rect x="518.45" y="667.5" width="0.80" height="13.80" fill="#888"/>
<rect x="583.2" y="667.5" width="5.20" height="13.80" fill="#c020b0"/>
<rect x="593.9" y="667.5" width="1.40" height="13.80" fill="#e3b07c"/>
<rect x="611.3" y="667.5" width="6.50" height="13.80" fill="#d9d9d9" stroke="#999" stroke-width="0.4"/>
<rect x="622.3" y="667.5" width="0.90" height="13.80" fill="#7a1010"/>
<rect x="623.4" y="667.5" width="0.80" height="13.80" fill="#e8101e"/>
<rect x="626.2" y="667.5" width="12.10" height="13.80" fill="#e8101e"/>
<rect x="638.7" y="667.5" width="6.30" height="13.80" fill="#1a3a9a"/>
<rect x="645" y="667.5" width="1.00" height="13.80" fill="#a0a8c8"/>
<rect x="646" y="667.5" width="1.00" height="13.80" fill="#1a3a9a"/>
<rect x="647" y="667.5" width="1.50" height="13.80" fill="#a0a8c8"/>
<rect x="649" y="667.5" width="6.70" height="13.80" fill="#e8101e"/>
<rect x="656.0500000000001" y="667.5" width="0.80" height="13.80" fill="#666"/>
<rect x="686.3" y="667.5" width="14.00" height="13.80" fill="#d9d9d9" stroke="#999" stroke-width="0.4"/>
<rect x="58.1" y="652.3" width="0.80" height="13.40" fill="#7ab87a"/>
<rect x="60.800000000000004" y="652.3" width="0.80" height="13.40" fill="#7ab87a"/>
<rect x="70.05" y="652.3" width="0.80" height="13.40" fill="#222"/>
<rect x="149.15" y="652.3" width="0.80" height="13.40" fill="#555"/>
<rect x="153.75" y="652.3" width="0.80" height="13.40" fill="#333"/>
<rect x="169.75" y="652.3" width="0.80" height="13.40" fill="#333"/>
<rect x="177" y="652.3" width="4.00" height="13.40" fill="#2e8b2e"/>
<rect x="180.79999999999998" y="652.3" width="0.80" height="13.40" fill="#1a5a1a"/>
<rect x="181.4" y="652.3" width="6.30" height="13.40" fill="#2e8b2e"/>
<rect x="190.1" y="652.3" width="1.20" height="13.40" fill="#445"/>
<rect x="191.3" y="652.3" width="1.20" height="13.40" fill="#99a"/>
<rect x="231.45" y="652.3" width="0.80" height="13.40" fill="#5a6488"/>
<rect x="240.3" y="652.3" width="2.60" height="13.40" fill="#1a2f8a"/>
<rect x="244.04999999999998" y="652.3" width="0.80" height="13.40" fill="#999"/>
<rect x="266.35" y="652.3" width="0.80" height="13.40" fill="#aab"/>
<rect x="280.1" y="652.3" width="6.50" height="13.40" fill="#22a040"/>
<rect x="289.3" y="652.3" width="6.70" height="13.40" fill="#c020b0"/>
<rect x="298.4" y="652.3" width="1.50" height="13.40" fill="#8aaa8a"/>
<rect x="301.3" y="652.3" width="2.40" height="13.40" fill="#fdfcc4" stroke="#999" stroke-width="0.4"/>
<rect x="308" y="652.3" width="3.20" height="13.40" fill="#c020b0"/>
<rect x="311.9" y="652.3" width="4.10" height="13.40" fill="#8a9a18"/>
<rect x="330.2" y="652.3" width="1.10" height="13.40" fill="#8a9a18"/>
<rect x="331.3" y="652.3" width="1.30" height="13.40" fill="#a0a070"/>
<rect x="335.25" y="652.3" width="0.80" height="13.40" fill="#5a9a5a"/>
<rect x="338.2" y="652.3" width="2.20" height="13.40" fill="#e3b07c"/>
<rect x="359.2" y="652.3" width="7.00" height="13.40" fill="#2e8b2e"/>
<rect x="366.5" y="652.3" width="2.10" height="13.40" fill="#c8d0c8"/>
<rect x="368.8" y="652.3" width="1.00" height="13.40" fill="#2a6a2a"/>
<rect x="373.3" y="652.3" width="3.10" height="13.40" fill="#8a9a18"/>
<rect x="380.6" y="652.3" width="2.20" height="13.40" fill="#8a9a18"/>
<rect x="420.9" y="652.3" width="30.90" height="13.40" fill="#d9d9d9" stroke="#999" stroke-width="0.4"/>
<rect x="481.35" y="652.3" width="0.80" height="13.40" fill="#333"/>
<rect x="482.9" y="652.3" width="6.40" height="13.40" fill="#e8101e"/>
<rect x="490.1" y="652.3" width="2.40" height="13.40" fill="#a0a8c8"/>
<rect x="492.8" y="652.3" width="6.10" height="13.40" fill="#1a3a9a"/>
<rect x="498.9" y="652.3" width="0.90" height="13.40" fill="#a0a8c8"/>
<rect x="500" y="652.3" width="12.80" height="13.40" fill="#e8101e"/>
<rect x="513.7" y="652.3" width="0.80" height="13.40" fill="#999"/>
<rect x="514.6999999999999" y="652.3" width="0.80" height="13.40" fill="#e8101e"/>
<rect x="515.5000000000001" y="652.3" width="0.80" height="13.40" fill="#777"/>
<rect x="521.1" y="652.3" width="24.60" height="13.40" fill="#d9d9d9" stroke="#999" stroke-width="0.4"/>
<rect x="547.1" y="652.3" width="1.20" height="13.40" fill="#e3b07c"/>
<rect x="548.8" y="652.3" width="5.30" height="13.40" fill="#ffe81a"/>
<rect x="553.9" y="652.3" width="0.80" height="13.40" fill="#b0a000"/>
<rect x="554.5" y="652.3" width="9.50" height="13.40" fill="#ffe81a"/>
<rect x="563.8000000000001" y="652.3" width="0.80" height="13.40" fill="#b0a000"/>
<rect x="564.4" y="652.3" width="2.70" height="13.40" fill="#ffe81a"/>
<rect x="567.1" y="652.3" width="1.10" height="13.40" fill="#fff8a0"/>
<rect x="568.2" y="652.3" width="3.20" height="13.40" fill="#ffe81a"/>
<rect x="571.15" y="652.3" width="0.80" height="13.40" fill="#b0a000"/>
<rect x="571.7" y="652.3" width="2.00" height="13.40" fill="#ffe81a"/>
<rect x="573.9" y="652.3" width="1.70" height="13.40" fill="#1a5a3a"/>
<rect x="575.6" y="652.3" width="7.10" height="13.40" fill="#ffe81a"/>
<rect x="601" y="652.3" width="10.10" height="13.40" fill="#ffe81a"/>
<rect x="619.0500000000001" y="652.3" width="0.80" height="13.40" fill="#777"/>
<rect x="625.15" y="652.3" width="0.80" height="13.40" fill="#7a2020"/>
<rect x="664.4" y="652.3" width="2.60" height="13.40" fill="#d8a870"/>
<rect x="666.8000000000001" y="652.3" width="0.80" height="13.40" fill="#a0703a"/>
<rect x="667.4" y="652.3" width="2.80" height="13.40" fill="#d8a870"/>
<rect x="671.9" y="652.3" width="9.90" height="13.40" fill="#ffe81a"/>
<rect x="683.95" y="652.3" width="0.80" height="13.40" fill="#333"/>
<rect x="19.8" y="665.2" width="680.2" height="2.80" fill="#000"/>
<path d="M20.6 687V704L19.9 710.8M24.5 687V704L24.1 710.8M31.8 687V704L29.1 710.8M35.5 687V704L34.0 710.8M91.6 687V704L92.6 710.8M95.6 687V704L96.9 710.8M159.3 687V704L157.2 710.8M163.1 687V704L161.4 710.8M164.7 687V704L166.1 710.8M166.4 687V704L170.6 710.8M188.7 687V704L188.1 710.8M194.0 687V704L192.8 710.8M195.5 687V704L198.4 710.8M202.6 705.5L203.4 710.8M235.3 687V704L234.4 710.8M237.6 687V704L238.7 710.8M248.5 687V704L246.7 710.8M251.2 687V704L251.1 710.8M253.8 687V704L255.6 710.8M265.7 687V704L265.5 710.8M269.6 687V704L269.7 710.8M274.2 687V704L274.3 710.8M468.2 705.5L469.0 710.8M472.2 687V704L473.9 710.8M585.8 687V704L585.6 710.8M588.6 687V704L590.1 710.8M622.8 687V704L621.7 710.8M623.8 687V704L626.5 710.8M641.8 687V704L639.8 710.8M646.5 687V704L644.5 710.8M647.5 687V704L649.0 710.8M652.4 687V704L653.4 710.8M656.5 687V704L658.3 710.8M58.5 646.6V628.5L58.1 623.8M61.2 646.6V628.5L63.0 623.8M179.0 646.6V628.5L178.4 623.8M184.5 646.6V628.5L183.8 623.8M190.6 646.6V628.5L188.0 623.8M191.9 646.6V628.5L192.5 623.8M241.6 646.6V628.5L242.0 623.8M244.4 646.6V628.5L246.2 623.8M299.1 646.6V628.5L299.2 623.8M302.5 646.6V628.5L303.7 623.8M330.6 646.6V628.5L327.0 623.8M332.0 646.6V628.5L331.2 623.8M335.6 646.6V628.5L336.1 623.8M338.8 646.6V628.5L340.4 623.8M340.0 646.6V628.5L345.3 623.8M362.7 646.6V628.5L363.0 623.8M366.8 646.6V628.5L367.6 623.8M369.3 646.6V628.5L372.1 623.8M374.8 646.6V628.5L376.7 623.8M481.7 646.6V628.5L482.0 623.8M486.0 646.6V628.5L485.9 623.8M491.3 646.6V628.5L490.1 623.8M492.2 646.6V628.5L494.7 623.8M495.8 646.6V628.5L498.9 623.8M506.4 646.6V628.5L503.8 623.8M514.0 646.6V628.5L508.4 623.8M515.0 646.6V628.5L513.0 623.8M516.0 646.6V628.5L517.5 623.8M547.7 646.6V628.5L547.8 623.8M551.4 646.6V628.5L552.3 623.8M557.3 628.5L557.0 623.8M565.7 646.6V628.5L561.5 623.8M569.8 646.6V628.5L566.1 623.8M572.7 646.6V628.5L570.6 623.8M574.7 646.6V628.5L575.3 623.8M580.6 628.5L580.3 623.8M666.3 646.6V628.5L665.8 623.8M670.8 628.5L670.5 623.8M321.6 687V704L318.0 710.8M322.6 687V704L322.6 710.8M323.5 687V704L327.3 710.8M324.4 687V704L331.9 710.8M332.8 687V704L336.5 710.8M333.2 687V704L341.2 710.8M342.5 687V704L345.8 710.8M343.5 687V704L350.4 710.8M343.0 687V704L355.1 710.8M347.3 687V704L359.7 710.8M353.0 687V704L364.3 710.8M386.0 687V704L369.0 710.8M389.0 687V704L373.6 710.8M390.7 687V704L378.3 710.8M392.6 687V704L382.9 710.8M393.7 687V704L387.5 710.8M395.2 687V704L392.2 710.8M396.8 687V704L396.8 710.8M398.8 687V704L401.4 710.8M407.0 687V704L406.1 710.8M410.8 687V704L410.7 710.8M414.0 687V704L415.3 710.8M418.5 687V704L420.0 710.8M420.6 687V704L424.6 710.8" fill="none" stroke="#222" stroke-width="0.45"/>
<text class="g" transform="translate(21.9,713.6) rotate(-90)" text-anchor="end">trnH-GUG</text>
<text class="g" transform="translate(26.1,713.6) rotate(-90)" text-anchor="end">psbA</text>
<text class="g" transform="translate(31.1,711.4) rotate(-90)" text-anchor="end">trnK-UUU*</text>
<text class="g" transform="translate(36.0,713.6) rotate(-90)" text-anchor="end">matK</text>
<text class="g" transform="translate(48.0,686.1) rotate(-90)" text-anchor="end">rps16*</text>
<text class="g" transform="translate(59.3,688.3) rotate(-90)" text-anchor="end">trnQ-UUG</text>
<text class="g" transform="translate(65.0,688.3) rotate(-90)" text-anchor="end">trnS-GCU</text>
<text class="g" transform="translate(77.0,688.3) rotate(-90)" text-anchor="end">atpA</text>
<text class="g" transform="translate(84.0,686.1) rotate(-90)" text-anchor="end">atpF*</text>
<text class="g" transform="translate(89.0,688.3) rotate(-90)" text-anchor="end">atpH</text>
<text class="g" transform="translate(94.6,713.6) rotate(-90)" text-anchor="end">atpI</text>
<text class="g" transform="translate(98.9,713.6) rotate(-90)" text-anchor="end">rps2</text>
<text class="g" transform="translate(110.5,688.3) rotate(-90)" text-anchor="end">rpoC2</text>
<text class="g" transform="translate(126.7,686.1) rotate(-90)" text-anchor="end">rpoC1*</text>
<text class="g" transform="translate(159.2,713.6) rotate(-90)" text-anchor="end">psbM</text>
<text class="g" transform="translate(163.4,713.6) rotate(-90)" text-anchor="end">trnD-GUC</text>
<text class="g" transform="translate(168.1,713.6) rotate(-90)" text-anchor="end">trnY-GUA</text>
<text class="g" transform="translate(172.6,713.6) rotate(-90)" text-anchor="end">trnE-UUC</text>
<text class="g" transform="translate(190.1,713.6) rotate(-90)" text-anchor="end">trnS-UGA</text>
<text class="g" transform="translate(194.8,713.6) rotate(-90)" text-anchor="end">trnfM-CAU</text>
<text class="g" transform="translate(200.4,713.6) rotate(-90)" text-anchor="end">rps14</text>
<text class="g" transform="translate(205.4,713.6) rotate(-90)" text-anchor="end">psaB</text>
<text class="g" transform="translate(214.5,688.3) rotate(-90)" text-anchor="end">psaA</text>
<text class="g" transform="translate(225.8,686.1) rotate(-90)" text-anchor="end">pafI*</text>
<text class="g" transform="translate(236.4,713.6) rotate(-90)" text-anchor="end">rps4</text>
<text class="g" transform="translate(240.7,713.6) rotate(-90)" text-anchor="end">trnT-UGU</text>
<text class="g" transform="translate(248.7,713.6) rotate(-90)" text-anchor="end">ndhJ</text>
<text class="g" transform="translate(253.1,713.6) rotate(-90)" text-anchor="end">ndhK</text>
<text class="g" transform="translate(257.6,713.6) rotate(-90)" text-anchor="end">ndhC</text>
<text class="g" transform="translate(267.5,713.6) rotate(-90)" text-anchor="end">trnV-UAC</text>
<text class="g" transform="translate(271.7,713.6) rotate(-90)" text-anchor="end">atpE</text>
<text class="g" transform="translate(276.3,713.6) rotate(-90)" text-anchor="end">atpB</text>
<text class="g" transform="translate(456.6,688.3) rotate(-90)" text-anchor="end">trnL-CAA</text>
<text class="g" transform="translate(463.6,686.1) rotate(-90)" text-anchor="end">ndhB*</text>
<text class="g" transform="translate(471.0,713.6) rotate(-90)" text-anchor="end">rps7</text>
<text class="g" transform="translate(475.9,711.4) rotate(-90)" text-anchor="end">rps12*</text>
<text class="g" transform="translate(587.6,713.6) rotate(-90)" text-anchor="end">ccsA</text>
<text class="g" transform="translate(592.1,713.6) rotate(-90)" text-anchor="end">trnL-UAG</text>
<text class="g" transform="translate(596.8,688.3) rotate(-90)" text-anchor="end">rpl32</text>
<text class="g" transform="translate(617.2,688.3) rotate(-90)" text-anchor="end">ycf1-fragment</text>
<text class="g" transform="translate(623.7,713.6) rotate(-90)" text-anchor="end">trnR-ACG</text>
<text class="g" transform="translate(628.5,713.6) rotate(-90)" text-anchor="end">rrn5</text>
<text class="g" transform="translate(634.8,688.3) rotate(-90)" text-anchor="end">rrn23</text>
<text class="g" transform="translate(641.8,711.4) rotate(-90)" text-anchor="end">trnA-UGC*</text>
<text class="g" transform="translate(646.5,711.4) rotate(-90)" text-anchor="end">trnI-GAU*</text>
<text class="g" transform="translate(651.0,713.6) rotate(-90)" text-anchor="end">ycf68</text>
<text class="g" transform="translate(655.4,713.6) rotate(-90)" text-anchor="end">rrn16</text>
<text class="g" transform="translate(660.3,713.6) rotate(-90)" text-anchor="end">trnV-GAC</text>
<text class="g" transform="translate(60.1,621.0) rotate(-90)">psbK</text>
<text class="g" transform="translate(65.0,621.0) rotate(-90)">psbI</text>
<text class="g" transform="translate(73.4,646.6) rotate(-90)">trnR-UCU</text>
<text class="g" transform="translate(152.2,646.6) rotate(-90)">trnC-GCA</text>
<text class="g" transform="translate(157.8,646.6) rotate(-90)">petN</text>
<text class="g" transform="translate(173.0,646.6) rotate(-90)">trnT-GGU</text>
<text class="g" transform="translate(180.4,621.0) rotate(-90)">psbD</text>
<text class="g" transform="translate(185.8,621.0) rotate(-90)">psbC</text>
<text class="g" transform="translate(190.0,621.0) rotate(-90)">psbZ</text>
<text class="g" transform="translate(194.5,621.0) rotate(-90)">trnG-UCC</text>
<text class="g" transform="translate(234.3,646.6) rotate(-90)">trnS-GGA</text>
<text class="g" transform="translate(244.0,621.0) rotate(-90)">trnL-UAA*</text>
<text class="g" transform="translate(248.2,621.0) rotate(-90)">trnF-GAA</text>
<text class="g" transform="translate(269.4,646.6) rotate(-90)">trnM-CAU</text>
<text class="g" transform="translate(286.0,646.6) rotate(-90)">rbcL</text>
<text class="g" transform="translate(294.8,646.6) rotate(-90)">accD</text>
<text class="g" transform="translate(301.2,621.0) rotate(-90)">psaI</text>
<text class="g" transform="translate(305.7,621.0) rotate(-90)">pafII</text>
<text class="g" transform="translate(312.5,646.6) rotate(-90)">cemA</text>
<text class="g" transform="translate(317.4,646.6) rotate(-90)">petA</text>
<text class="g" transform="translate(329.0,621.0) rotate(-90)">petL</text>
<text class="g" transform="translate(333.2,621.0) rotate(-90)">petG</text>
<text class="g" transform="translate(338.1,621.0) rotate(-90)">psaJ</text>
<text class="g" transform="translate(342.4,621.0) rotate(-90)">rpl33</text>
<text class="g" transform="translate(347.3,621.0) rotate(-90)">rps18</text>
<text class="g" transform="translate(365.0,621.0) rotate(-90)">psbB</text>
<text class="g" transform="translate(369.6,621.0) rotate(-90)">psbT</text>
<text class="g" transform="translate(374.1,621.0) rotate(-90)">psbH</text>
<text class="g" transform="translate(378.7,621.0) rotate(-90)">petB</text>
<text class="g" transform="translate(384.7,646.6) rotate(-90)">petD</text>
<text class="g" transform="translate(484.0,621.0) rotate(-90)">trnV-GAC</text>
<text class="g" transform="translate(487.9,621.0) rotate(-90)">rrn16</text>
<text class="g" transform="translate(492.1,621.0) rotate(-90)">trnI-GAU*</text>
<text class="g" transform="translate(496.7,621.0) rotate(-90)">ycf68</text>
<text class="g" transform="translate(500.9,621.0) rotate(-90)">trnA-UGC*</text>
<text class="g" transform="translate(505.8,621.0) rotate(-90)">rrn23</text>
<text class="g" transform="translate(510.4,621.0) rotate(-90)">rrn4.5</text>
<text class="g" transform="translate(515.0,621.0) rotate(-90)">rrn5</text>
<text class="g" transform="translate(519.5,621.0) rotate(-90)">trnR-ACG</text>
<text class="g" transform="translate(549.8,621.0) rotate(-90)">rps15</text>
<text class="g" transform="translate(554.3,621.0) rotate(-90)">ndhH</text>
<text class="g" transform="translate(559.0,621.0) rotate(-90)">ndhA*</text>
<text class="g" transform="translate(563.5,621.0) rotate(-90)">ndhI</text>
<text class="g" transform="translate(568.1,621.0) rotate(-90)">ndhG</text>
<text class="g" transform="translate(572.6,621.0) rotate(-90)">ndhE</text>
<text class="g" transform="translate(577.3,621.0) rotate(-90)">psaC</text>
<text class="g" transform="translate(582.3,621.0) rotate(-90)">ndhD</text>
<text class="g" transform="translate(609.1,646.6) rotate(-90)">ndhF</text>
<text class="g" transform="translate(621.8,646.6) rotate(-90)">trnN-GUU</text>
<text class="g" transform="translate(628.2,646.6) rotate(-90)">rrn4.5</text>
<text class="g" transform="translate(667.8,621.0) rotate(-90)">rps12*</text>
<text class="g" transform="translate(672.5,621.0) rotate(-90)">rps7</text>
<text class="g" transform="translate(679.6,646.6) rotate(-90)">ndhB*</text>
<text class="g" transform="translate(687.0,646.6) rotate(-90)">trnL-CAA</text>
<text class="g" transform="translate(320.0,713.6) rotate(-90)" text-anchor="end">psbJ</text>
<text class="g" transform="translate(324.6,713.6) rotate(-90)" text-anchor="end">psbL</text>
<text class="g" transform="translate(329.3,713.6) rotate(-90)" text-anchor="end">psbF</text>
<text class="g" transform="translate(333.9,713.6) rotate(-90)" text-anchor="end">psbE</text>
<text class="g" transform="translate(338.5,713.6) rotate(-90)" text-anchor="end">trnW-CCA</text>
<text class="g" transform="translate(343.2,713.6) rotate(-90)" text-anchor="end">trnP-UGG</text>
<text class="g" transform="translate(347.8,713.6) rotate(-90)" text-anchor="end">rpl33</text>
<text class="g" transform="translate(352.4,713.6) rotate(-90)" text-anchor="end">rps18</text>
<text class="g" transform="translate(357.1,713.6) rotate(-90)" text-anchor="end">rpl20</text>
<text class="g" transform="translate(361.7,711.4) rotate(-90)" text-anchor="end">rps12*</text>
<text class="g" transform="translate(366.3,711.4) rotate(-90)" text-anchor="end">clpP1*</text>
<text class="g" transform="translate(371.0,713.6) rotate(-90)" text-anchor="end">rpoA</text>
<text class="g" transform="translate(375.6,713.6) rotate(-90)" text-anchor="end">rps11</text>
<text class="g" transform="translate(380.3,713.6) rotate(-90)" text-anchor="end">rpl36</text>
<text class="g" transform="translate(384.9,713.6) rotate(-90)" text-anchor="end">infA</text>
<text class="g" transform="translate(389.5,713.6) rotate(-90)" text-anchor="end">rps8</text>
<text class="g" transform="translate(394.2,713.6) rotate(-90)" text-anchor="end">rpl14</text>
<text class="g" transform="translate(398.8,711.4) rotate(-90)" text-anchor="end">rpl16*</text>
<text class="g" transform="translate(403.4,713.6) rotate(-90)" text-anchor="end">rps3</text>
<text class="g" transform="translate(408.1,713.6) rotate(-90)" text-anchor="end">rpl22</text>
<text class="g" transform="translate(412.7,713.6) rotate(-90)" text-anchor="end">rps19</text>
<text class="g" transform="translate(417.3,711.4) rotate(-90)" text-anchor="end">rpl2*</text>
<text class="g" transform="translate(422.0,713.6) rotate(-90)" text-anchor="end">rpl23</text>
<text class="g" transform="translate(426.6,713.6) rotate(-90)" text-anchor="end">trnI-CAU</text>
<text class="g" x="132.2" y="691.2">rpoB</text>
<text class="g" x="363.8" y="691.2">pbf1</text>
<text class="g" x="506.5" y="691.2">trnN-GUU</text>
<text class="g" x="675.8" y="691.2">ycf2-fragm</text>
<text class="g" x="432" y="646.8">ycf2</text>
<text class="g" x="529.3" y="646.8">ycf1</text>
</g>
</svg></body></html>
